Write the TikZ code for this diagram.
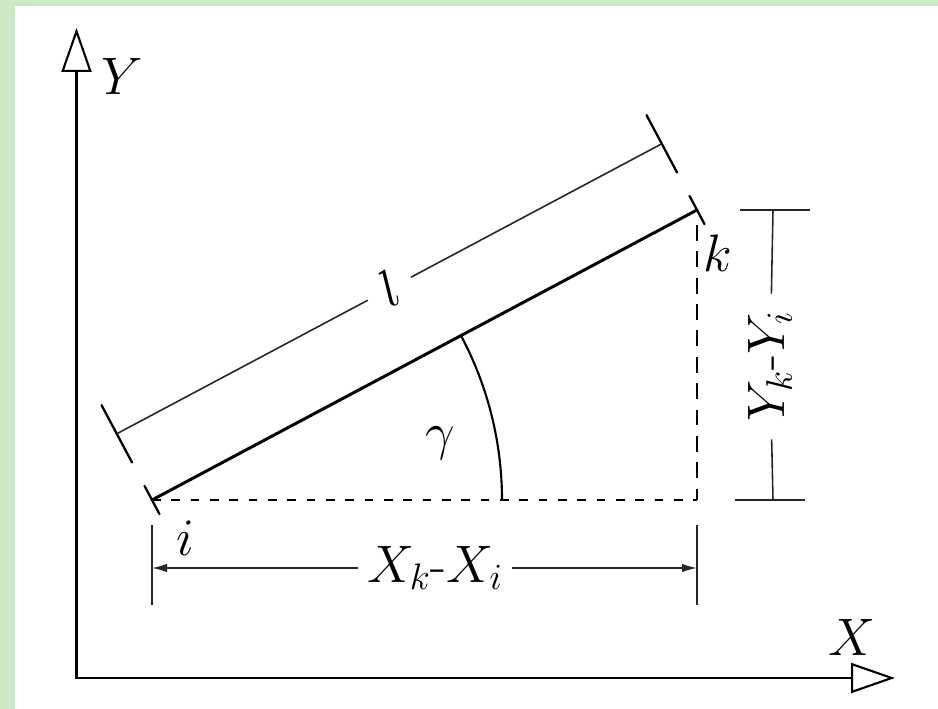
\documentclass[tikz,border=0pt]{standalone}
\usepackage{fix-cm}
\usetikzlibrary{arrows.meta,calc}
\definecolor{framegreen}{RGB}{205,232,197}
\tikzset{
  axisline/.style={line width=1.2pt, draw=black, line join=miter,
    {Triangle[open,length=0.88cm,width=0.60cm,line width=1.2pt]}-{Triangle[open,length=0.88cm,width=0.60cm,line width=1.2pt]}},
  member/.style={line width=1.7pt, draw=black, line cap=round},
  endtick/.style={line width=1.3pt, draw=black, line cap=round},
  dimline/.style={line width=0.9pt, draw=black!85},
  dimtick/.style={line width=1.3pt, draw=black, line cap=round},
  dimarrow/.style={dimline, -{Latex[length=0.30cm,width=0.17cm]}},
  projline/.style={line width=1.1pt, draw=black, dash pattern=on 5pt off 6pt},
  vprojline/.style={line width=1.3pt, draw=black, dash pattern=on 9pt off 6pt},
  anglearc/.style={line width=1.2pt, draw=black},
  marklabel/.style={font=\fontsize{30}{34}\selectfont, inner sep=1pt},
  dimlabel/.style={marklabel, fill=white, inner xsep=5pt},
}
\begin{document}
\begin{tikzpicture}
\useasboundingbox (0,0) rectangle (18.76,14.18);
\fill[framegreen] (0,0) rectangle (18.76,14.18);
\fill[white] (0.30,0) rectangle (18.76,14.06);
\coordinate (o) at (1.53,0.62);
\coordinate (ytip) at (1.53,13.62);
\coordinate (xtip) at (17.90,0.62);
\draw[axisline] (ytip) -- (o) -- (xtip);
\node[marklabel] (ylab) at (2.44,12.64) {$Y$};
\node[marklabel] (xlab) at (17.04,1.44) {$X$};
\coordinate (i) at (3.04,4.18);
\coordinate (k) at (13.94,9.98);
\coordinate (c) at (13.94,4.18);
\draw[projline] (i) -- (c);
\draw[vprojline] ($(k)+(0,-0.3)$) -- (c);
\draw[member] (i) -- (k);
\draw[endtick] ($(i)!0.32cm!90:(k)$) -- ($(i)!0.32cm!-90:(k)$);
\draw[endtick] ($(k)!0.32cm!90:(i)$) -- ($(k)!0.32cm!-90:(i)$);
\node[marklabel] (klab) at (14.36,9.12) {$k$};
\node[marklabel] (ilab) at (3.70,3.42) {$i$};
\coordinate (li) at ($(i)!1.5cm!90:(k)$);
\coordinate (lk) at ($(k)!1.5cm!-90:(i)$);
\draw[dimtick] ($(li)!0.65cm!90:(lk)$) -- ($(li)!0.65cm!-90:(lk)$);
\draw[dimtick] ($(lk)!0.65cm!90:(li)$) -- ($(lk)!0.65cm!-90:(li)$);
\path (li) -- node[marklabel, sloped, inner xsep=9pt] (llab) {$l$} (lk);
\draw[dimline] (li) -- (llab);
\draw[dimline] (llab) -- (lk);
\draw[anglearc] ($(i)+(7.0,0)$) arc[start angle=0, end angle=28.02, radius=7.0];
\node[marklabel] (glab) at (8.80,5.32) {$\gamma$};
\draw[dimline] ($(i)+(0,-0.5)$) -- ($(i)+(0,-2.1)$);
\draw[dimline] ($(c)+(0,-0.5)$) -- ($(c)+(0,-2.1)$);
\coordinate (xdl) at ($(i)+(0,-1.36)$);
\coordinate (xdr) at ($(c)+(0,-1.36)$);
\node[dimlabel] (xdlab) at (8.70,2.82) {$X_k$-$X_i$};
\draw[dimarrow] (xdlab) -- (xdl);
\draw[dimarrow] (xdlab) -- (xdr);
\coordinate (ydt) at (15.46,9.98);
\coordinate (ydb) at (15.46,4.18);
\draw[dimline] ($(ydt)+(-0.66,0)$) -- ($(ydt)+(0.74,0)$);
\draw[dimline] ($(ydb)+(-0.76,0)$) -- ($(ydb)+(0.64,0)$);
\node[dimlabel, rotate=90, inner xsep=10pt] (ydlab) at (15.40,6.85) {$Y_k$-$Y_i$};
\draw[dimline] (ydt) -- (ydlab);
\draw[dimline] (ydlab) -- (ydb);
\end{tikzpicture}
\end{document}
